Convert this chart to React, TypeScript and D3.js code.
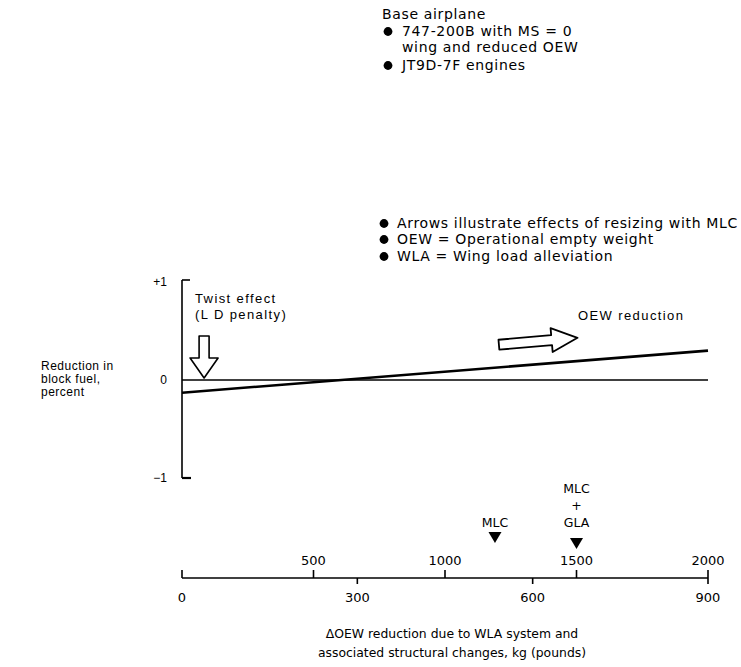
import React from "react";
import * as d3 from "d3";

const baseNotes = ["747-200B with MS = 0", "wing and reduced OEW", "JT9D-7F engines"];
const chartNotes = [
  "Arrows illustrate effects of resizing with MLC",
  "OEW = Operational empty weight",
  "WLA = Wing load alleviation",
];
const yTickValues = [1, 0, -1];
const yTickLabels = ["+1", "0", "\u22121"];
const lbTicks = [0, 500, 1000, 1500, 2000];
const lbTickLabels = ["", "500", "1000", "1500", "2000"];
const kgTicks = [0, 300, 600, 900];
const kgTickLabels = ["0", "300", "600", "900"];
const fuelLb = [0, 2000];
const fuelReduction = [-0.13, 0.3];
const zeroLb = [0, 2000];
const zeroVals = [0, 0];
const markerLb = [1190, 1500];
const markerLabels = [["MLC"], ["MLC", "+", "GLA"]];

const W = 741;
const H = 667;

export default function App() {
  const xLb = d3.scaleLinear().domain([0, 2000]).range([182, 708]);
  const xKg = d3.scaleLinear().domain([0, 900]).range([182, 708]);
  const y = d3.scaleLinear().domain([-1, 1]).range([478, 282]);
  const line = d3
    .line<[number, number]>()
    .x((d) => xLb(d[0]))
    .y((d) => y(d[1]));
  const fuelPts: [number, number][] = fuelLb.map((v, i) => [v, fuelReduction[i]]);
  const zeroPts: [number, number][] = zeroLb.map((v, i) => [v, zeroVals[i]]);
  const axisY = 578;

  const noteFont = "'DejaVu Sans', 'Open Sans', sans-serif";
  const chartFont = "'Liberation Sans', Arial, sans-serif";

  // down arrow (twist effect)
  const tx = xLb(84);
  const tipY = y(0) - 2;
  const downArrow = [
    [tx - 5, tipY - 42],
    [tx + 5, tipY - 42],
    [tx + 5, tipY - 20],
    [tx + 14, tipY - 20],
    [tx, tipY],
    [tx - 14, tipY - 20],
    [tx - 5, tipY - 20],
  ]
    .map((p) => p.join(","))
    .join(" ");

  // right arrow (OEW reduction)
  const ax0 = xLb(1205);
  const ax1 = xLb(1505);
  const acy = y(0.36);
  const len = ax1 - ax0;
  const rightArrow = [
    [0, -5],
    [len - 26, -5],
    [len - 26, -12],
    [len, 0],
    [len - 26, 12],
    [len - 26, 5],
    [0, 5],
  ]
    .map((p) => p.join(","))
    .join(" ");

  return (
    <svg
      width={W}
      height={H}
      style={{ position: "absolute", left: 0, top: 0, background: "#fff" }}
    >
      <rect x={0} y={0} width={W} height={H} fill="#fff" />
      {/* Base airplane note */}
      <g fontFamily={noteFont} fontSize={14} letterSpacing={0.65} fill="#000">
        <text x={382} y={19}>Base airplane</text>
        {baseNotes.map((t, i) => {
          const yy = [36, 52, 70][i];
          return (
            <g key={t}>
              {i !== 1 && <circle cx={388} cy={yy - 4.5} r={4.4} fill="#000" />}
              <text x={402} y={yy}>{t}</text>
            </g>
          );
        })}
        {chartNotes.map((t, i) => {
          const yy = [228, 244, 261][i];
          return (
            <g key={t}>
              <circle cx={384} cy={yy - 4.5} r={4.4} fill="#000" />
              <text x={397} y={yy}>{t}</text>
            </g>
          );
        })}
      </g>

      {/* Y axis */}
      <g fill="none" stroke="#000">
        <line x1={182} x2={182} y1={y(1) - 2} y2={y(-1)} strokeWidth={1.6} />
        <line x1={182} x2={190} y1={y(1) - 2} y2={y(1) - 2} strokeWidth={1.6} />
        <line x1={182} x2={191} y1={y(-1)} y2={y(-1)} strokeWidth={2.2} />
      </g>
      <g fontFamily={chartFont} fontSize={12} fill="#000" textAnchor="end">
        {yTickValues.map((v, i) => (
          <text key={v} x={167} y={y(v) + 4}>
            {yTickLabels[i]}
          </text>
        ))}
      </g>
      <g fontFamily={chartFont} fontSize={12} letterSpacing={0.5} fill="#000">
        <text x={41} y={370}>Reduction in</text>
        <text x={41} y={383}>block fuel,</text>
        <text x={41} y={396}>percent</text>
      </g>

      {/* data lines */}
      <path d={line(zeroPts) || ""} fill="none" stroke="#000" strokeWidth={1.5} />
      <path d={line(fuelPts) || ""} fill="none" stroke="#000" strokeWidth={2.6} />

      {/* annotations */}
      <g fontFamily={chartFont} fontSize={13} letterSpacing={1.4} fill="#000">
        <text x={195} y={303}>Twist effect</text>
        <text x={195} y={319}>(L D penalty)</text>
        <text x={578} y={320}>OEW reduction</text>
      </g>
      <polygon points={downArrow} fill="#fff" stroke="#000" strokeWidth={1.6} strokeLinejoin="round" />
      <polygon
        points={rightArrow}
        transform={`translate(${ax0},${acy}) rotate(-5)`}
        fill="#fff"
        stroke="#000"
        strokeWidth={1.8}
        strokeLinejoin="round"
      />

      {/* markers */}
      <g fontFamily={noteFont} fontSize={12.5} fill="#000" textAnchor="middle">
        {markerLb.map((v, i) => {
          const labels = markerLabels[i];
          const triY = i === 0 ? 537 : 543;
          return (
            <g key={v}>
              {labels.map((l, j) => (
                <text key={j} x={xLb(v)} y={527 - (labels.length - 1 - j) * 17}>
                  {l}
                </text>
              ))}
              <path
                d={`M${xLb(v) - 6.5},${triY - 5} L${xLb(v) + 6.5},${triY - 5} L${xLb(v)},${triY + 6} Z`}
                fill="#000"
              />
            </g>
          );
        })}
      </g>

      {/* bottom axis */}
      <g stroke="#000" fill="none">
        <line x1={xLb(0)} x2={xLb(2000)} y1={axisY} y2={axisY} strokeWidth={1.6} />
        {lbTicks.map((v) => (
          <line key={v} x1={xLb(v)} x2={xLb(v)} y1={axisY} y2={axisY - 8} strokeWidth={1.6} />
        ))}
        {kgTicks
          .filter((v) => v > 0)
          .map((v) => (
            <line key={v} x1={xKg(v)} x2={xKg(v)} y1={axisY} y2={axisY + 6} strokeWidth={1.6} />
          ))}
      </g>
      <g fontFamily={noteFont} fontSize={13} fill="#000" textAnchor="middle">
        {lbTicks.map((v, i) => (
          <text key={v} x={xLb(v)} y={axisY - 13}>
            {lbTickLabels[i]}
          </text>
        ))}
        {kgTicks.map((v, i) => (
          <text key={v} x={xKg(v)} y={axisY + 24}>
            {kgTickLabels[i]}
          </text>
        ))}
      </g>
      <g fontFamily={noteFont} fontSize={12.4} fill="#000" textAnchor="middle">
        <text x={452} y={638}>{"\u0394OEW reduction due to WLA system and"}</text>
        <text x={452} y={657}>associated structural changes, kg (pounds)</text>
      </g>
    </svg>
  );
}
